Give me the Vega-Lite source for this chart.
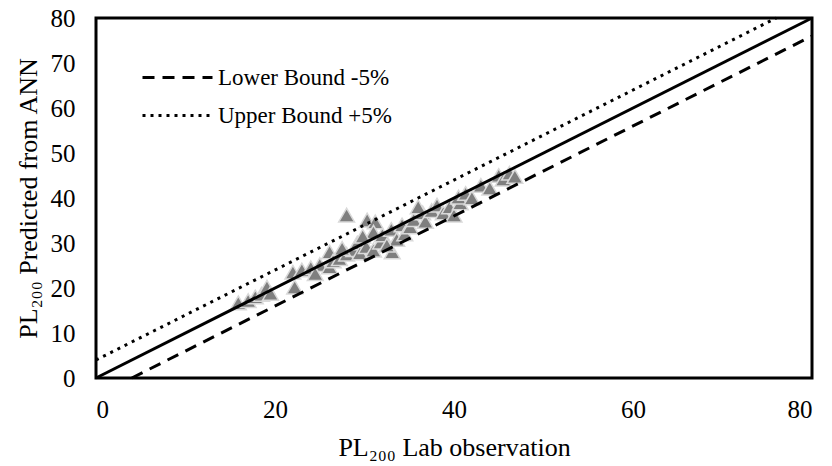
{
  "$schema": "https://vega.github.io/schema/vega-lite/v6.json",
  "width": 716,
  "height": 360,
  "autosize": "none",
  "padding": {"left": 96, "top": 18, "right": 20, "bottom": 88},
  "background": "white",
  "config": {
    "font": "'Liberation Serif', 'Times New Roman', Times, serif",
    "view": {"stroke": "black", "strokeWidth": 3},
    "axis": {
      "grid": false, "domain": false, "ticks": false,
      "labelFont": "'Liberation Serif', 'Times New Roman', Times, serif", "labelFontSize": 25, "labelColor": "black",
      "titleFont": "'Liberation Serif', 'Times New Roman', Times, serif", "titleFontSize": 26, "titleColor": "black", "titleFontWeight": "normal"
    },
    "legend": {"labelFont": "'Liberation Serif', 'Times New Roman', Times, serif", "labelFontSize": 23, "labelColor": "black", "labelLimit": 400}
  },
  "datasets": {
    "points": [
      {"obs": 15.9, "pred": 16.7}, {"obs": 17.0, "pred": 17.2}, {"obs": 17.8, "pred": 18.0}, {"obs": 18.5, "pred": 18.6},
      {"obs": 19.1, "pred": 20.2}, {"obs": 19.5, "pred": 18.8}, {"obs": 22.2, "pred": 20.2}, {"obs": 22.0, "pred": 23.5},
      {"obs": 23.0, "pred": 24.0}, {"obs": 24.0, "pred": 24.5}, {"obs": 25.0, "pred": 25.2}, {"obs": 26.1, "pred": 28.0},
      {"obs": 26.1, "pred": 24.7}, {"obs": 26.5, "pred": 26.0}, {"obs": 27.2, "pred": 26.5}, {"obs": 28.0, "pred": 36.2},
      {"obs": 28.0, "pred": 27.5}, {"obs": 28.8, "pred": 28.5}, {"obs": 29.2, "pred": 30.0}, {"obs": 29.5, "pred": 27.8},
      {"obs": 30.3, "pred": 35.1}, {"obs": 30.2, "pred": 29.2}, {"obs": 31.2, "pred": 34.7}, {"obs": 31.0, "pred": 32.4},
      {"obs": 31.0, "pred": 28.4}, {"obs": 31.8, "pred": 30.2}, {"obs": 32.0, "pred": 31.8}, {"obs": 33.1, "pred": 28.0},
      {"obs": 33.0, "pred": 33.0}, {"obs": 33.6, "pred": 30.8}, {"obs": 34.2, "pred": 34.0}, {"obs": 34.5, "pred": 32.0},
      {"obs": 35.1, "pred": 33.6}, {"obs": 35.5, "pred": 35.2}, {"obs": 36.5, "pred": 36.7}, {"obs": 36.8, "pred": 34.8},
      {"obs": 37.5, "pred": 37.2}, {"obs": 38.1, "pred": 38.4}, {"obs": 38.8, "pred": 36.7}, {"obs": 39.5, "pred": 38.0},
      {"obs": 40.0, "pred": 36.2}, {"obs": 40.7, "pred": 38.9}, {"obs": 40.5, "pred": 40.2}, {"obs": 41.3, "pred": 41.0},
      {"obs": 42.0, "pred": 40.0}, {"obs": 43.0, "pred": 42.8}, {"obs": 44.0, "pred": 42.2}, {"obs": 45.0, "pred": 45.0},
      {"obs": 45.5, "pred": 44.2}, {"obs": 46.2, "pred": 45.5}, {"obs": 46.8, "pred": 44.8}, {"obs": 24.5, "pred": 23.2},
      {"obs": 27.5, "pred": 28.8}, {"obs": 32.5, "pred": 29.5}, {"obs": 29.8, "pred": 31.5}, {"obs": 36.0, "pred": 38.0}
    ],
    "bounds": [
      {"series": "Lower Bound -5%", "obs": 4, "pred": 0},
      {"series": "Lower Bound -5%", "obs": 80, "pred": 76},
      {"series": "Upper Bound +5%", "obs": 0, "pred": 4},
      {"series": "Upper Bound +5%", "obs": 76, "pred": 80}
    ],
    "equality": [
      {"obs": 0, "pred": 0},
      {"obs": 80, "pred": 80}
    ]
  },
  "layer": [
    {
      "data": {"name": "points"},
      "mark": {"type": "point", "shape": "triangle-up", "filled": true, "size": 250, "fill": "#7f7f7f", "stroke": "#d9d9d9", "strokeWidth": 1.5, "opacity": 1},
      "encoding": {
        "x": {"field": "obs", "type": "quantitative", "scale": {"domain": [0, 80], "nice": false}, "axis": {"values": [0, 20, 40, 60, 80], "title": "PL₂₀₀ Lab observation", "labelPadding": 19, "titlePadding": 12}},
        "y": {"field": "pred", "type": "quantitative", "scale": {"domain": [0, 80], "nice": false}, "axis": {"values": [0, 10, 20, 30, 40, 50, 60, 70, 80], "title": "PL₂₀₀ Predicted from ANN", "labelPadding": 21, "titlePadding": 9}}
      }
    },
    {
      "data": {"name": "equality"},
      "mark": {"type": "line", "color": "black", "strokeWidth": 3},
      "encoding": {
        "x": {"field": "obs", "type": "quantitative"},
        "y": {"field": "pred", "type": "quantitative"}
      }
    },
    {
      "data": {"name": "bounds"},
      "mark": {"type": "line", "color": "black", "strokeWidth": 3},
      "encoding": {
        "x": {"field": "obs", "type": "quantitative"},
        "y": {"field": "pred", "type": "quantitative"},
        "detail": {"field": "series"},
        "strokeDash": {
          "field": "series", "type": "nominal",
          "scale": {"domain": ["Lower Bound -5%", "Upper Bound +5%"], "range": [[12, 8], [3, 5]]},
          "legend": {"title": null, "orient": "none", "legendX": 70, "legendY": 48, "symbolType": "M-7,0H7", "symbolSize": 100, "symbolStrokeWidth": 3, "symbolStrokeColor": "black", "labelOffset": 29, "rowPadding": 14}
        }
      }
    }
  ]
}
